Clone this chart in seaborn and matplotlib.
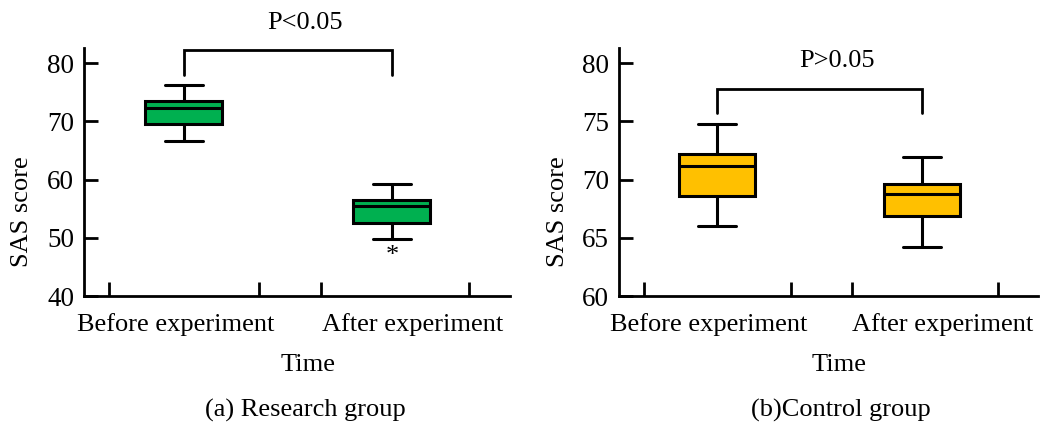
import matplotlib
import matplotlib.pyplot as plt
import pandas as pd
import seaborn as sns

matplotlib.use("Agg")

# five-number summaries: min, q1, median, q3, max
TIMES = ["Before experiment", "After experiment"]
RESEARCH_BEFORE = [66.7, 69.5, 72.3, 73.5, 76.3]
RESEARCH_AFTER = [49.8, 52.6, 55.4, 56.5, 59.3]
CONTROL_BEFORE = [66.0, 68.6, 71.2, 72.2, 74.8]
CONTROL_AFTER = [64.2, 66.9, 68.8, 69.6, 71.9]
RESEARCH_STAR = 46.9

RESEARCH_YTICKS = [40, 50, 60, 70, 80]
CONTROL_YTICKS = [60, 65, 70, 75, 80]

PANELS = [
    {
        "values": [RESEARCH_BEFORE, RESEARCH_AFTER],
        "color": "#00B050",
        "ylim": (40, 82.6),
        "yticks": RESEARCH_YTICKS,
        "bracket": (82.2, 77.9),
        "p_text": "P<0.05",
        "p_pos": (0.58, 86.9),
        "caption": "(a) Research group",
        "rect": [0.080, 0.3084, 0.4057, 0.5794],
        "cap_x": 305,
    },
    {
        "values": [CONTROL_BEFORE, CONTROL_AFTER],
        "color": "#FFC000",
        "ylim": (60, 81.3),
        "yticks": CONTROL_YTICKS,
        "bracket": (77.8, 75.7),
        "p_text": "P>0.05",
        "p_pos": (0.586, 80.2),
        "caption": "(b)Control group",
        "rect": [0.5895, 0.3084, 0.399, 0.5794],
        "cap_x": 841,
    },
]

sns.set_theme(style="white")
plt.rcParams["font.family"] = ["Liberation Serif", "DejaVu Serif"]
plt.rcParams["font.size"] = 19
plt.rcParams["text.color"] = "black"
plt.rcParams["axes.labelcolor"] = "black"
plt.rcParams["xtick.color"] = "black"
plt.rcParams["ytick.color"] = "black"

fig = plt.figure(figsize=(10.5, 4.28), dpi=100)

for i, panel in enumerate(PANELS):
    ax = fig.add_axes(panel["rect"])
    rows = []
    for t, vals in zip(TIMES, panel["values"]):
        rows += [{"Time": t, "score": v} for v in vals]
    df = pd.DataFrame(rows)

    sns.boxplot(
        data=df, x="Time", y="score", order=TIMES, color=panel["color"],
        saturation=1, width=0.37, whis=(0, 100), linewidth=2.2,
        linecolor="black", ax=ax,
    )

    ax.set_xlim(-0.48, 1.567)
    ax.set_ylim(*panel["ylim"])
    ax.set_yticks(panel["yticks"])
    ax.set_yticklabels([str(v) for v in panel["yticks"]], fontsize=19.5)

    ax.set_xticks([-0.36, 0.36, 0.66, 1.37])
    ax.set_xticklabels([])
    ax.set_xticks([-0.04, 1.1], minor=True)
    ax.set_xticklabels(TIMES, minor=True, fontsize=19)
    ax.tick_params(axis="x", which="minor", length=0, pad=12, bottom=True)
    ax.tick_params(axis="both", which="major", direction="in", length=10,
                   width=2, color="black", pad=7, bottom=True, left=True)

    for side in ["top", "right"]:
        ax.spines[side].set_visible(False)
    for side in ["left", "bottom"]:
        ax.spines[side].set_linewidth(2)
        ax.spines[side].set_color("black")

    ax.set_ylabel("SAS score", fontsize=19)
    ax.yaxis.set_label_coords(-0.12, 0.34)
    ax.set_xlabel("Time", fontsize=19)
    ax.xaxis.set_label_coords(0.525, -0.235)

    top, leg = panel["bracket"]
    ax.plot([0, 0, 1, 1], [leg, top, top, leg], color="black", lw=2,
            clip_on=False, solid_joinstyle="miter")
    ax.text(*panel["p_pos"], panel["p_text"], ha="center", va="center",
            fontsize=19, clip_on=False)

    if i == 0:
        ax.text(1, RESEARCH_STAR, "*", ha="center", va="center", fontsize=19)

    fig.text(panel["cap_x"] / 1050, 1 - 410 / 428, panel["caption"],
             ha="center", va="center", fontsize=19)

fig.savefig("out.png", dpi=100)
